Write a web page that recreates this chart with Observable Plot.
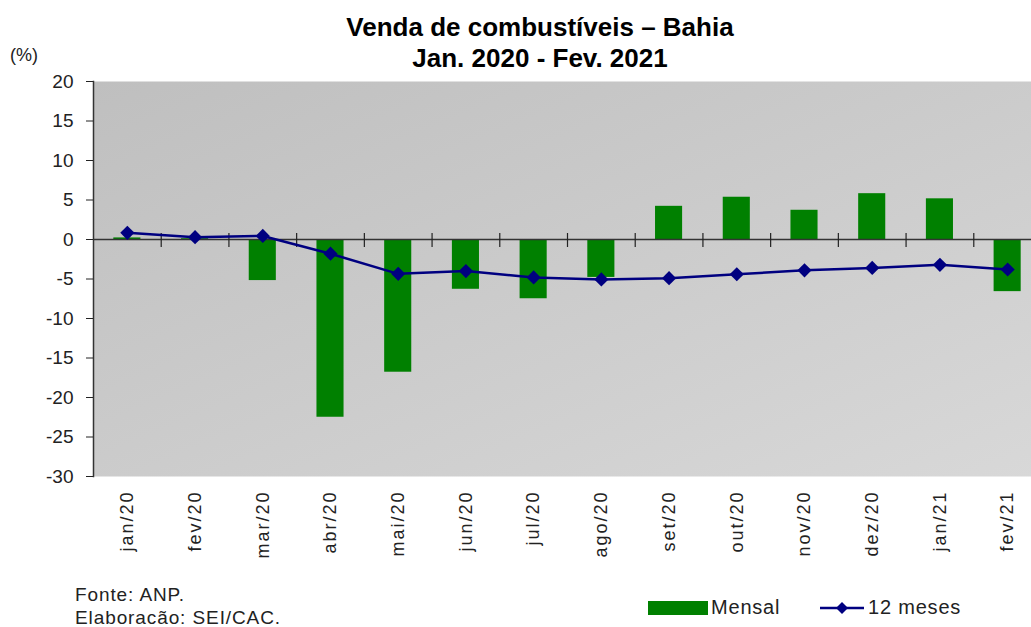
<!DOCTYPE html>
<html>
<head>
<meta charset="utf-8">
<script src="https://cdn.jsdelivr.net/npm/d3@7"></script>
<script src="https://cdn.jsdelivr.net/npm/@observablehq/plot@0.6"></script>
<style>
html, body { margin: 0; padding: 0; background: #fff; overflow: hidden; }
#wrap { position: relative; width: 1031px; height: 627px; font-family: "Liberation Sans", Arial, sans-serif; color: #222; }
#chart { position: absolute; left: 0; top: 0; }
.title { position: absolute; left: 0; width: 1080px; text-align: center; font-weight: bold; font-size: 26px; line-height: 30px; color: #000; }
.unit { position: absolute; left: 10px; top: 45px; font-size: 18px; color: #222; }
.foot { position: absolute; left: 75px; font-size: 19px; letter-spacing: 0.9px; color: #222; }
.leg { position: absolute; top: 596px; font-size: 20px; letter-spacing: 0.8px; color: #222; display: flex; align-items: center; }
#chart svg [aria-label="x-axis tick label"] text { letter-spacing: 2px; }
</style>
</head>
<body>
<div id="wrap">
  <div id="chart"></div>
  <div class="title" style="top:12px">Venda de combustíveis – Bahia</div>
  <div class="title" style="top:43px">Jan. 2020 - Fev. 2021</div>
  <div class="unit">(%)</div>
  <div class="foot" style="top:584px">Fonte: ANP.</div>
  <div class="foot" style="top:607px">Elaboracão: SEI/CAC.</div>
  <div class="leg" style="left:648px"><span style="display:inline-block;width:60px;height:14px;background:#008000;margin-right:3px"></span>Mensal</div>
  <div class="leg" style="left:820px"><svg width="44" height="16" style="margin-right:4px"><line x1="0" y1="8" x2="44" y2="8" stroke="#000080" stroke-width="2.5"/><path d="M22,2L28,8L22,14L16,8Z" fill="#000080"/></svg>12 meses</div>
</div>
<script>
// ---- data ----
const months = ["jan/20","fev/20","mar/20","abr/20","mai/20","jun/20","jul/20","ago/20","set/20","out/20","nov/20","dez/20","jan/21","fev/21"];
const mensal = [0.2, 0.1, -5.2, -22.5, -16.8, -6.3, -7.5, -4.8, 4.2, 5.35, 3.7, 5.8, 5.15, -6.6];
const dozeMeses = [0.85, 0.3, 0.45, -1.8, -4.35, -4.0, -4.8, -5.05, -4.9, -4.4, -3.9, -3.6, -3.2, -3.8];
const yTicks = [20, 15, 10, 5, 0, -5, -10, -15, -20, -25, -30];

const data = months.map((m, i) => ({month: m, mensal: mensal[i], doze: dozeMeses[i]}));

const W = 1031, H = 627, mL = 93, mR = -10, mT = 81, mB = 151;
const step = (W - mL - mR) / months.length;

const diamond = {
  draw(ctx, size) {
    const r = Math.sqrt(size) * 0.62625;
    ctx.moveTo(0, -r); ctx.lineTo(r, 0); ctx.lineTo(0, r); ctx.lineTo(-r, 0); ctx.closePath();
  }
};

const plot = Plot.plot({
  width: W, height: H,
  marginLeft: mL, marginRight: mR, marginTop: mT, marginBottom: mB,
  style: {background: "transparent", fontFamily: "Liberation Sans, Arial, sans-serif", color: "#222", overflow: "visible"},
  x: {type: "band", domain: months, paddingInner: 0.6, paddingOuter: 0.3, round: false},
  y: {domain: [-30, 20]},
  marks: [
    Plot.frame({fill: "url(#bggrad)", stroke: null}),
    Plot.barY(data, {x: "month", y: "mensal", fill: "#008000"}),
    Plot.ruleY([0], {stroke: "#333", strokeWidth: 1.5}),
    Plot.ruleX(months.slice(1), {y1: 0, y2: 0, insetTop: -6, insetBottom: -8, dx: -step / 2, stroke: "#222", strokeWidth: 1.2}),
    Plot.frame({anchor: "left", stroke: "#333", strokeWidth: 1.5}),
    Plot.axisY(yTicks, {tickSize: 7, tickPadding: 13, fontSize: 19, tickFormat: d => String(d), label: null}),
    Plot.axisX({tickSize: 0, tickRotate: -90, tickPadding: 14, fontSize: 18, label: null}),
    Plot.lineY(data, {x: "month", y: "doze", stroke: "#000080", strokeWidth: 2.5}),
    Plot.dot(data, {x: "month", y: "doze", symbol: diamond, r: 6.4, fill: "#000080", stroke: null})
  ]
});

const ns = "http://www.w3.org/2000/svg";
const defs = document.createElementNS(ns, "defs");
defs.innerHTML = '<linearGradient id="bggrad" x1="0" y1="0" x2="1" y2="1"><stop offset="0" stop-color="#bfbfbf"/><stop offset="1" stop-color="#d8d8d8"/></linearGradient>';
plot.insertBefore(defs, plot.firstChild);
document.getElementById("chart").appendChild(plot);
</script>
</body>
</html>
